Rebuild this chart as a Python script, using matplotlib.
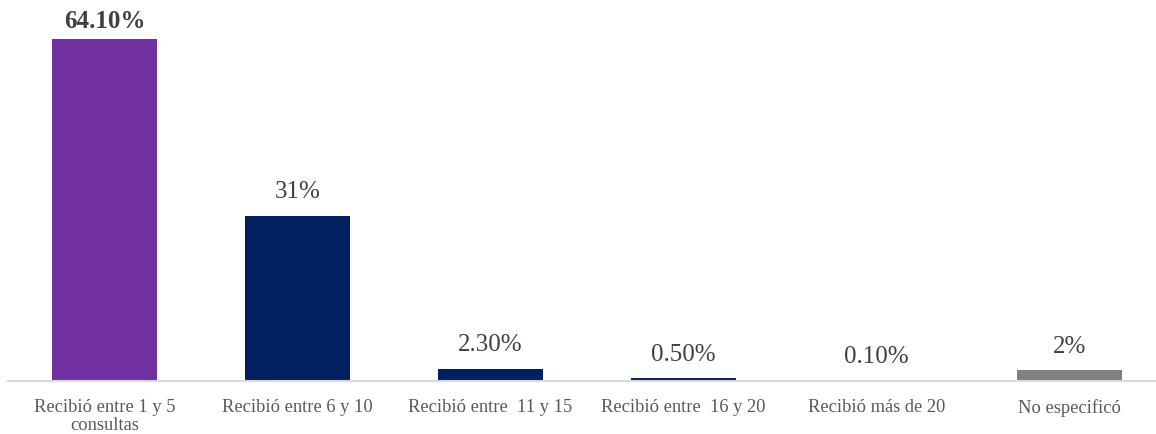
import numpy as np
import matplotlib.pyplot as plt

categorias = ["Recibió entre 1 y 5\nconsultas", "Recibió entre 6 y 10", "Recibió entre  11 y 15",
              "Recibió entre  16 y 20", "Recibió más de 20", "No especificó"]
valores = [64.1, 31, 2.3, 0.5, 0.1, 2]
etiquetas = ["64.10%", "31%", "2.30%", "0.50%", "0.10%", "2%"]
colores = ["#7030A0", "#002060", "#002060", "#002060", "#002060", "#808080"]

plt.rcParams['font.family'] = ['Liberation Serif', 'DejaVu Serif']

fig = plt.figure(figsize=(11.56, 4.34), dpi=100)
ax = fig.add_axes([8/1156, 1 - 381/434, 1148/1156, 381/434])

x = np.arange(len(valores))
bars = ax.bar(x, valores, width=0.544, color=colores)

for i, (b, v, t) in enumerate(zip(bars, valores, etiquetas)):
    ax.annotate(t, (b.get_x() + b.get_width()/2, v), xytext=(0, 4 if i == 0 else 9),
                textcoords='offset points', ha='center', va='bottom', fontsize=18,
                color='#404040', fontweight='bold' if i == 0 else 'normal')

ax.set_xlim(-0.5, 5.448)
ax.set_ylim(0, 71.4)
ax.set_xticks(x)
ax.set_xticklabels(categorias, fontsize=13.3, color='#595959', linespacing=1.08)
ax.tick_params(axis='x', length=0, pad=13)
ax.set_yticks([])
for s in ['top', 'left', 'right']:
    ax.spines[s].set_visible(False)
ax.spines['bottom'].set_color('#D9D9D9')
ax.spines['bottom'].set_linewidth(1.5)

fig.savefig('out.png', dpi=100)
